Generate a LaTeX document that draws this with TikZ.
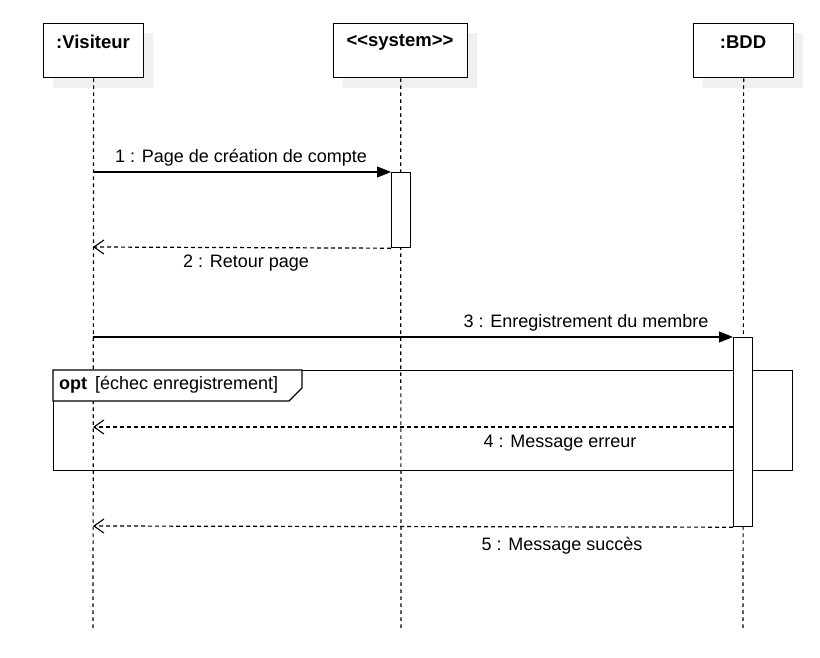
\documentclass[tikz,border=0pt]{standalone}
\usepackage{fontspec}
\setmainfont{Liberation Sans}
\usetikzlibrary{arrows.meta}
\begin{document}
\begin{tikzpicture}[x=1pt,y=-1pt,
  head/.style={draw,fill=white,line width=1.3pt,minimum width=100pt,minimum height=54pt,anchor=north west,inner sep=0pt},
  headtxt/.style={font=\fontsize{18.5}{22}\selectfont\bfseries,inner sep=0pt},
  lifeline/.style={dash pattern=on 3.5pt off 3.5pt,line width=1.2pt},
  actbar/.style={draw,fill=white,line width=1.2pt,inner sep=0pt,anchor=north west,minimum width=19pt},
  sync/.style={line width=1.1pt,-{Triangle[length=14pt,width=11pt]}},
  reply/.style={line width=1.2pt,dash pattern=on 4pt off 3pt,-{Straight Barb[length=10pt,width=14pt,line width=1.1pt]}},
  lbl/.style={font=\fontsize{18}{21}\selectfont,inner sep=0pt},
]
\useasboundingbox (0,0) rectangle (820,658);
% shadows
\fill[black!6] (53,33) rectangle (153,88);
\fill[black!6] (343,33) rectangle (477,88);
\fill[black!6] (703,33) rectangle (803,88);
% heads
\node[head] (vis) at (43,23) {};
\node[head,minimum width=134pt] (sys) at (333,23) {};
\node[head] (bdd) at (693,23) {};
\node[headtxt] (visT) at (93,42) {:Visiteur};
\node[headtxt] (sysT) at (400,42) {<\kern0pt<system>\kern0pt>};
\node[headtxt] (bddT) at (743,42) {:BDD};
% lifeline ends
\coordinate (visE) at (93,630);
\coordinate (sysE) at (401,630);
\coordinate (bddE) at (743,630);
\draw[lifeline] (vis.south) -- (visE);
\draw[lifeline] (sys.south) -- (sysE);
\draw[lifeline] (bdd.south) -- (bddE);
% opt frame
\node[draw,line width=1.2pt,minimum width=739pt,minimum height=100pt,anchor=north west,inner sep=0pt] (opt) at (53,370) {};
\coordinate (tabO) at (53,370);
\coordinate (tabA) at (302,370);
\coordinate (tabB) at (302,388);
\coordinate (tabC) at (289,401);
\coordinate (tabD) at (53,401);
\filldraw[fill=white,line width=1.2pt] (tabO) -- (tabA) -- (tabB) -- (tabC) -- (tabD) -- cycle;
\node[lbl,anchor=west] (optT) at (59,385) {\textbf{opt}\hspace{8pt}[échec enregistrement]};
% activations
\node[actbar,minimum height=75pt] (actS) at (391,172) {};
\node[actbar,minimum height=189pt] (actB) at (733,337) {};
% message anchors on Visiteur lifeline
\coordinate (v1) at (93,172);
\coordinate (v2) at (93,247);
\coordinate (v3) at (93,337);
\coordinate (v4) at (93,427);
\coordinate (v5) at (93,526);
\coordinate (b4) at (733,427);
% messages
\draw[sync] (v1) -- (actS.north west);
\node[lbl] (m1) at (241,158) {1 : Page de création de compte};
\draw[reply] (actS.south west) -- (v2);
\node[lbl] (m2) at (246,263) {2 : Retour page};
\draw[sync] (v3) -- (actB.north west);
\node[lbl] (m3) at (586,323) {3 : Enregistrement du membre};
\draw[reply] (b4) -- (v4);
\node[lbl] (m4) at (560,443) {4 : Message erreur};
\draw[reply] (actB.south west) -- (v5);
\node[lbl] (m5) at (562,546) {5 : Message succès};
\end{tikzpicture}
\end{document}
